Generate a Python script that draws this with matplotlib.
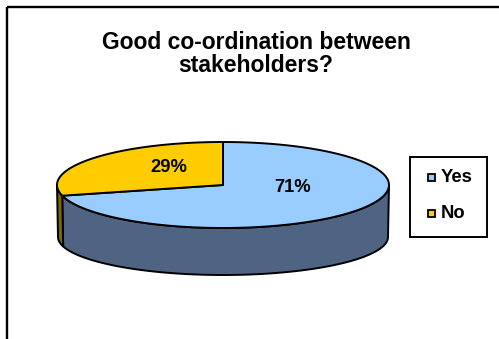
#!/usr/bin/env python3

import numpy as np
import matplotlib.pyplot as plt
from matplotlib.patches import Polygon, Rectangle

# answers to the survey question
labels = ['Yes', 'No']
shares = [71, 29]
top_colors = ['#99CCFF', '#FFCC00']
side_colors = ['#4F6482', '#7F6600']
title = 'Good co-ordination between\nstakeholders?'

plt.rcParams['font.family'] = ['Liberation Sans', 'DejaVu Sans']

W, H = 499, 339
fig = plt.figure(figsize=(W / 100, H / 100), dpi=100)
ax = fig.add_axes([0, 0, 1, 1])
ax.set_xlim(0, W)
ax.set_ylim(H, 0)
ax.axis('off')

# chart frame (runs off the right and bottom edges)
ax.add_patch(Rectangle((7, 7), 520, 360, fill=False, ec='black', lw=1.7))

# ellipse geometry of the 3d pie, in pixels
cx = 223
top_cy, top_a, top_b = 185, 166, 43
bot_cy, bot_a, bot_b = 237, 165, 38


def top_pt(t):
    return cx + top_a * np.cos(t), top_cy - top_b * np.sin(t)


def bot_pt(t):
    return cx + bot_a * np.cos(t), bot_cy - bot_b * np.sin(t)


# slices go clockwise from 12 o'clock
fracs = np.array(shares) / sum(shares)
ranges = []
start = 90.0
for f in fracs:
    end = start - f * 360
    ranges.append((end, start))
    start = end

# side walls: only the front half (180..360 deg) is visible
for (t1, t2), sc in zip(ranges, side_colors):
    for shift in (-360, 0, 360):
        lo = max(t1 + shift, 180)
        hi = min(t2 + shift, 360)
        if hi <= lo:
            continue
        t = np.radians(np.linspace(lo, hi, 120))
        xt, yt = top_pt(t)
        xb, yb = bot_pt(t)
        pts = np.column_stack([np.r_[xt, xb[::-1]], np.r_[yt, yb[::-1]]])
        ax.add_patch(Polygon(pts, closed=True, fc=sc, ec='black', lw=1.4,
                             joinstyle='round'))

# top faces
for (t1, t2), tc in zip(ranges, top_colors):
    t = np.radians(np.linspace(t1, t2, 200))
    xt, yt = top_pt(t)
    pts = np.column_stack([np.r_[cx, xt], np.r_[top_cy, yt]])
    ax.add_patch(Polygon(pts, closed=True, fc=tc, ec='black', lw=1.4,
                         joinstyle='round'))

# percentage labels
label_pos = [(293, 187), (169, 167)]
for (x, y), s in zip(label_pos, shares):
    ax.text(x, y, f'{s}%', ha='center', va='center', fontsize=13.2,
            fontweight='bold')

# title
ax.text(256, 54, title, ha='center', va='center', fontsize=16.5,
        fontweight='bold', linespacing=1.05)

# legend box
ax.add_patch(Rectangle((410, 157), 77, 80, fill=False, ec='black', lw=1.4))
for i, (lab, tc) in enumerate(zip(labels, top_colors)):
    y = 177 + i * 36
    ax.add_patch(Rectangle((428, y - 3.5), 7, 7, fc=tc, ec='black', lw=1.3))
    ax.text(441, y, lab, ha='left', va='center', fontsize=13.2,
            fontweight='bold')

fig.savefig('out.png', dpi=100)
